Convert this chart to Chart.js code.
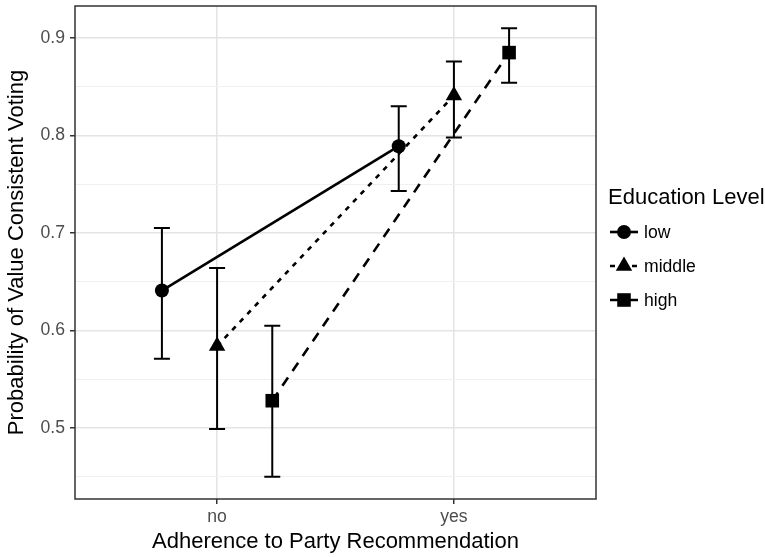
<!DOCTYPE html>
<html>
<head>
<meta charset="utf-8">
<script src="https://cdn.jsdelivr.net/npm/chart.js@4.4.1/dist/chart.umd.min.js"></script>
<style>
  html, body { margin: 0; padding: 0; background: #fff; }
  #wrap { width: 765px; height: 557px; }
</style>
</head>
<body>
<div id="wrap"><canvas id="effects"></canvas></div>
<script>
// categories and groups
const categories = ["no", "yes"];
const groups = ["low", "middle", "high"];
const dodge = [-0.233, 0, 0.233];

// estimated probabilities with confidence bounds (no, yes)
const lowMean = [0.641, 0.789];
const lowUpper = [0.705, 0.830];
const lowLower = [0.571, 0.743];
const middleMean = [0.584, 0.841];
const middleUpper = [0.664, 0.876];
const middleLower = [0.499, 0.798];
const highMean = [0.528, 0.885];
const highUpper = [0.605, 0.910];
const highLower = [0.450, 0.854];

// y ticks (major labelled, minor only gridlines)
const yTicks = [0.45, 0.5, 0.55, 0.6, 0.65, 0.7, 0.75, 0.8, 0.85, 0.9];
const yMajor = [0.5, 0.6, 0.7, 0.8, 0.9];

const FONT = "'Liberation Sans', Arial, Helvetica, sans-serif";

function isMajor(v) {
    return yMajor.some(m => Math.abs(m - v) < 1e-6);
}

function points(mean, d) {
    return mean.map((v, i) => ({ x: i + 1 + dodge[d], y: v }));
}

const uppers = [lowUpper, middleUpper, highUpper];
const lowers = [lowLower, middleLower, highLower];

const datasets = [
    { label: groups[0], data: points(lowMean, 0), borderDash: [], pointStyle: "circle", pointRadius: 7 },
    { label: groups[1], data: points(middleMean, 1), borderDash: [5, 6], pointStyle: "triangle", pointRadius: 9.5 },
    { label: groups[2], data: points(highMean, 2), borderDash: [10, 8], pointStyle: "rect", pointRadius: 9.6 }
].map(ds => Object.assign(ds, {
    borderColor: "#000",
    backgroundColor: "#000",
    pointBackgroundColor: "#000",
    pointBorderColor: "#000",
    pointBorderWidth: 0,
    pointHoverRadius: ds.pointRadius,
    borderWidth: 2.6,
    borderCapStyle: "butt",
    fill: false,
    tension: 0
}));

// error bars drawn through the scales
const errorBars = {
    id: "errorBars",
    beforeDatasetsDraw(chart) {
        const ctx = chart.ctx;
        const xs = chart.scales.x, ys = chart.scales.y;
        ctx.save();
        ctx.strokeStyle = "#000";
        ctx.lineWidth = 2;
        ctx.setLineDash([]);
        for (let d = 0; d < groups.length; d++) {
            for (let i = 0; i < categories.length; i++) {
                const x = xs.getPixelForValue(i + 1 + dodge[d]);
                const yt = ys.getPixelForValue(uppers[d][i]);
                const yb = ys.getPixelForValue(lowers[d][i]);
                ctx.beginPath();
                ctx.moveTo(x, yt); ctx.lineTo(x, yb);
                ctx.moveTo(x - 8, yt); ctx.lineTo(x + 8, yt);
                ctx.moveTo(x - 8, yb); ctx.lineTo(x + 8, yb);
                ctx.stroke();
            }
        }
        ctx.restore();
    }
};

// panel border + ggplot-like legend
const panelAndLegend = {
    id: "panelAndLegend",
    afterDatasetsDraw(chart) {
        const ctx = chart.ctx;
        const a = chart.chartArea;
        ctx.save();
        ctx.strokeStyle = "#333";
        ctx.lineWidth = 1.5;
        ctx.setLineDash([]);
        ctx.strokeRect(a.left, a.top, a.right - a.left, a.bottom - a.top);

        // legend
        const lx = a.right + 12;
        ctx.fillStyle = "#000";
        ctx.font = "22px " + FONT;
        ctx.textBaseline = "middle";
        ctx.textAlign = "left";
        ctx.fillText("Education Level", lx, 198);
        ctx.font = "17.6px " + FONT;
        chart.data.datasets.forEach((ds, k) => {
            const cy = 232 + k * 34;
            ctx.strokeStyle = "#000";
            ctx.lineWidth = ds.borderWidth;
            ctx.setLineDash(ds.borderDash);
            ctx.beginPath();
            ctx.moveTo(lx + 2, cy);
            ctx.lineTo(lx + 30, cy);
            ctx.stroke();
            ctx.setLineDash([]);
            ctx.fillStyle = "#000";
            Chart.helpers.drawPoint(ctx, { pointStyle: ds.pointStyle, radius: ds.pointRadius, borderWidth: 0, rotation: 0 }, lx + 16, cy);
            ctx.fillStyle = "#000";
            ctx.fillText(ds.label, lx + 36, cy + 1);
        });
        ctx.restore();
    }
};

new Chart(document.getElementById("effects"), {
    type: "line",
    data: { datasets: datasets },
    plugins: [errorBars, panelAndLegend],
    options: {
        responsive: true,
        maintainAspectRatio: false,
        animation: false,
        layout: { autoPadding: false, padding: { top: 6, right: 169, left: 0, bottom: 0 } },
        plugins: { legend: { display: false }, tooltip: { enabled: false } },
        scales: {
            x: {
                type: "linear",
                min: 0.4,
                max: 2.6,
                afterBuildTicks: s => { s.ticks = categories.map((c, i) => ({ value: i + 1 })); },
                afterFit: s => { s.height = 58; s.paddingLeft = 0; s.paddingRight = 0; },
                border: { display: false },
                grid: { color: "#e4e4e4", lineWidth: 1.5, tickLength: 5, tickColor: "#333", tickWidth: 1.5 },
                ticks: {
                    padding: 3,
                    color: "#4d4d4d",
                    font: { family: FONT, size: 17.6 },
                    maxRotation: 0,
                    callback: v => categories[Math.round(v) - 1]
                },
                title: {
                    display: true,
                    text: "Adherence to Party Recommendation",
                    color: "#000",
                    font: { family: FONT, size: 22 },
                    padding: { top: 0, bottom: 2 }
                }
            },
            y: {
                type: "linear",
                min: 0.4272,
                max: 0.9328,
                afterBuildTicks: s => { s.ticks = yTicks.map(v => ({ value: v })); },
                afterFit: s => { s.width = 75; s.paddingTop = 0; s.paddingBottom = 0; },
                border: { display: false },
                grid: {
                    color: c => isMajor(c.tick.value) ? "#e4e4e4" : "#f0f0f0",
                    lineWidth: c => isMajor(c.tick.value) ? 1.5 : 1,
                    tickLength: 5,
                    tickColor: c => isMajor(c.tick.value) ? "#333" : "rgba(0,0,0,0)",
                    tickWidth: 1.5
                },
                ticks: {
                    padding: 5,
                    color: "#4d4d4d",
                    font: { family: FONT, size: 17.6 },
                    callback: v => isMajor(v) ? v.toFixed(1) : ""
                },
                title: {
                    display: true,
                    text: "Probability of Value Consistent Voting",
                    color: "#000",
                    font: { family: FONT, size: 22 },
                    padding: { top: 4, bottom: 0 }
                }
            }
        }
    }
});
</script>
</body>
</html>
